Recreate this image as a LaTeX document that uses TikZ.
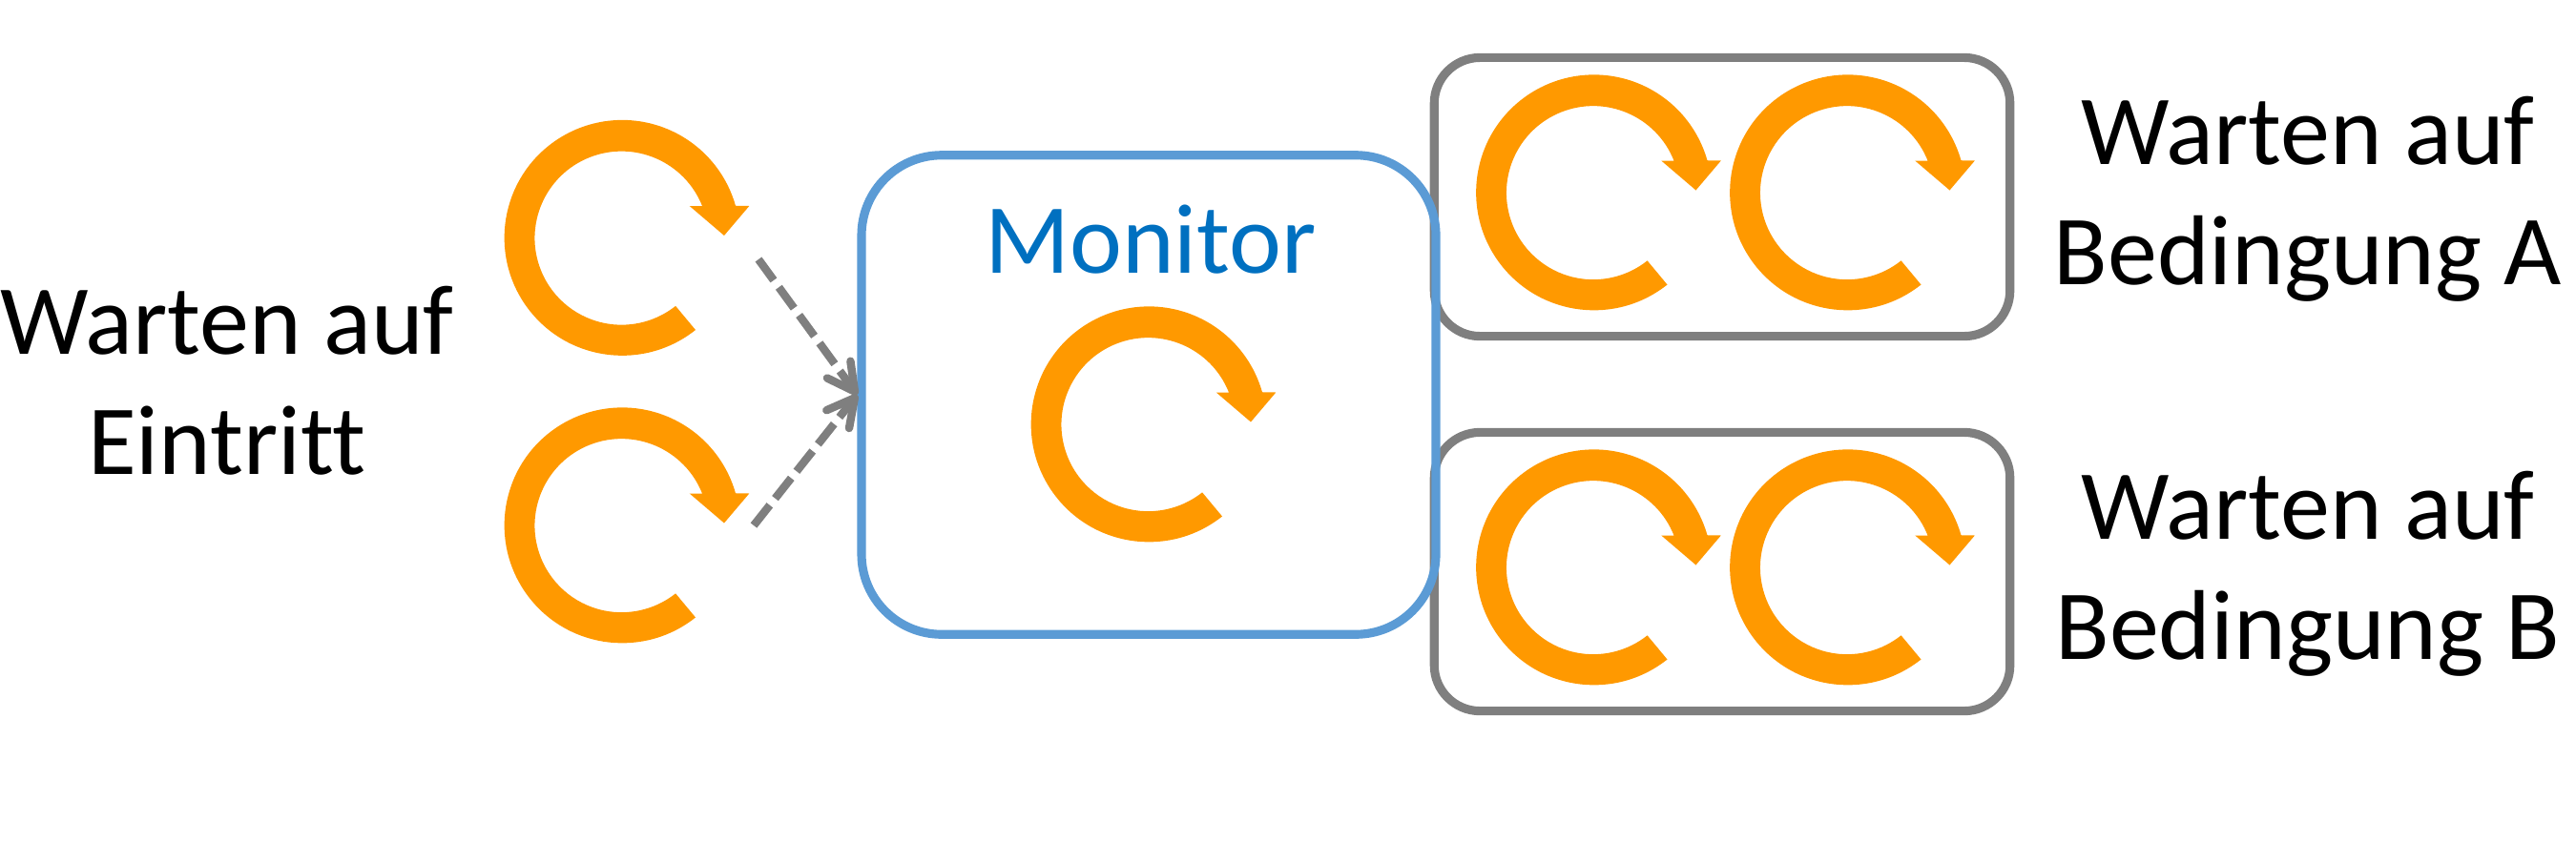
\documentclass[tikz,border=0pt]{standalone}
\usepackage{fontspec}
\setmainfont{Carlito}[Ligatures=NoCommon]
\usetikzlibrary{arrows.meta}
\definecolor{cycleorange}{HTML}{FF9900}
\definecolor{monitorblue}{HTML}{5B9BD5}
\definecolor{monitortext}{HTML}{0070C0}
\definecolor{boxgray}{HTML}{7F7F7F}
\tikzset{
    cyclearrow/.pic={
        \fill[cycleorange] (0.77,-0.965) arc (-51.5:-344.2:1.235) -- (1.333,0.335) -- (1.07,0.025)
            -- (0.707,0.335) -- (0.84,0.335) arc (21.7:308.5:0.91) -- cycle;
    },
    waitbox/.style={draw=boxgray, line width=2.6pt, rounded corners=0.48cm, minimum width=6.035cm, minimum height=2.922cm},
    monitorbox/.style={draw=monitorblue, line width=2.6pt, rounded corners=0.84cm, minimum width=6.02cm, minimum height=5.025cm},
    caption/.style={font=\fontsize{29.6}{35.9}\selectfont, align=center, inner sep=0pt},
    entrypath/.style={draw=boxgray, line width=2.4pt, dash pattern=on 7.7pt off 2.6pt, -{Straight Barb[length=8.1pt, width=8.6pt, round]}},
}

\begin{document}
\begin{tikzpicture}
    \useasboundingbox (0,0) rectangle (27,8.82);
    % waiting rooms
    \node[waitbox] (roomA) at (18.05,6.755) {};
    \node[waitbox] (roomB) at (18.05,2.825) {};
    \node[monitorbox] (monitor) at (12.04,4.68) {};
    \node[caption, text=monitortext] (monitorlabel) at (12.06,6.31) {Monitor};
    \node[caption] (entrylabel) at (2.38,4.83) {Warten auf\\Eintritt};
    \node[caption] (labelA) at (24.19,6.73) {Warten auf\\Bedingung A};
    \node[caption] (labelB) at (24.19,2.80) {Warten auf\\Bedingung B};
    % threads
    \pic at (6.52,6.325) {cyclearrow};
    \pic at (6.52,3.31) {cyclearrow};
    \pic at (12.04,4.37) {cyclearrow};
    \pic at (16.705,6.80) {cyclearrow};
    \pic at (19.365,6.80) {cyclearrow};
    \pic at (16.705,2.87) {cyclearrow};
    \pic at (19.365,2.87) {cyclearrow};
    % entry
    \coordinate (entry1) at (7.95,6.10);
    \coordinate (entry2) at (7.90,3.31);
    \draw[entrypath] (entry1) -- (monitor.west);
    \draw[entrypath] (entry2) -- (monitor.west);
\end{tikzpicture}
\end{document}
